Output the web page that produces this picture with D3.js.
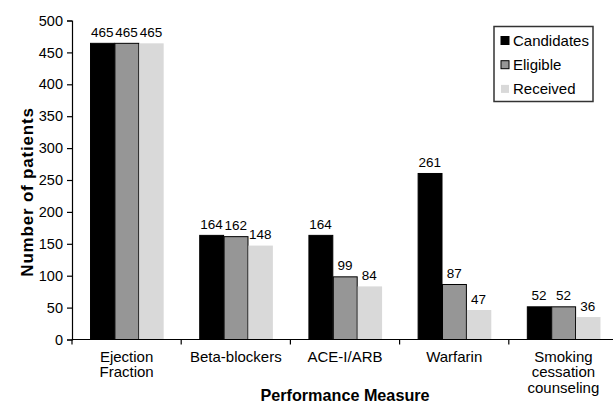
<!DOCTYPE html>
<html><head><meta charset="utf-8">
<script src="https://cdn.jsdelivr.net/npm/d3@7"></script>
<style>body{margin:0;background:#fff}svg{display:block;font-family:"Liberation Sans",Arial,sans-serif}</style>
</head><body>
<script>
const categories = [["Ejection","Fraction"],["Beta-blockers"],["ACE-I/ARB"],["Warfarin"],["Smoking","cessation","counseling"]];
const seriesNames = ["Candidates","Eligible","Received"];
const candidates = [465,164,164,261,52];
const eligible = [465,162,99,87,52];
const received = [465,148,84,47,36];
const yTicks = [0,50,100,150,200,250,300,350,400,450,500];
const colors = ["#000000","#969696","#d9d9d9"];
const strokes = ["#000000","#000000","none"];

(function(){
const W=613,H=404;
const svg=d3.select("body").append("svg").attr("width",W).attr("height",H);
const mL=72,mR=618,mT=20.5,mB=339.5;
const catIdx=categories.map((d,i)=>i);
const x=d3.scaleBand().domain(catIdx).range([mL,mR]).paddingInner(0.33).paddingOuter(0.165);
const xb=d3.scaleBand().domain([0,1,2]).range([0,x.bandwidth()]);
const y=d3.scaleLinear().domain([0,500]).range([mB,mT]);
const xEdge=d3.scaleLinear().domain([0,5]).range([mL,mR]);
const series=[candidates,eligible,received];

series.forEach((vals,s)=>{
  svg.append("g").selectAll("rect").data(vals).join("rect")
    .attr("x",(d,i)=>x(i)+xb(s)+0.5)
    .attr("y",d=>y(d)+0.5)
    .attr("width",xb.bandwidth()-(s==2?0:0.5))
    .attr("height",d=>mB-y(d)-0.5)
    .attr("fill",colors[s])
    .attr("stroke",strokes[s]).attr("stroke-width",1);
  svg.append("g").selectAll("text").data(vals).join("text")
    .attr("x",(d,i)=>x(i)+xb(s)+xb.bandwidth()/2)
    .attr("y",d=>y(d)-6)
    .attr("text-anchor","middle").attr("font-size",13.5).attr("fill","#000")
    .text(d=>d);
});

const ya=svg.append("g").attr("transform",`translate(${mL},0)`)
  .call(d3.axisLeft(y).tickValues(yTicks).tickSize(5).tickPadding(4));
ya.selectAll("text").attr("font-size",14.5).attr("fill","#000").attr("font-family","Liberation Sans, Arial, sans-serif");
ya.selectAll("line,path").attr("stroke","#000").attr("stroke-width",1.2);

const xa=svg.append("g").attr("transform",`translate(0,${mB})`);
xa.append("line").attr("x1",mL).attr("x2",mR).attr("y1",0).attr("y2",0).attr("stroke","#000").attr("stroke-width",1.2);
xa.selectAll("line.t").data(d3.range(6)).join("line").attr("class","t")
  .attr("x1",d=>xEdge(d)).attr("x2",d=>xEdge(d)).attr("y1",0).attr("y2",5).attr("stroke","#000").attr("stroke-width",1.2);
categories.forEach((lines,i)=>{
  const t=svg.append("text").attr("text-anchor","middle").attr("font-size",15).attr("fill","#000");
  lines.forEach((l,k)=>t.append("tspan").attr("x",x(i)+x.bandwidth()/2).attr("y",361.5+k*15.8).text(l));
});

svg.append("text").attr("x",(mL+mR)/2).attr("y",401).attr("text-anchor","middle")
  .attr("font-size",16.2).attr("font-weight","bold").text("Performance Measure");
svg.append("text").attr("transform",`translate(32.5,192) rotate(-90)`).attr("text-anchor","middle")
  .attr("font-size",17).attr("letter-spacing",0.8).attr("font-weight","bold").text("Number of patients");

const lg=svg.append("g");
lg.append("rect").attr("x",494).attr("y",26.5).attr("width",99).attr("height",75).attr("fill","#fff").attr("stroke","#333").attr("stroke-width",1.5);
seriesNames.forEach((n,s)=>{
  const cy=40.5+s*24.2;
  lg.append("rect").attr("x",501).attr("y",cy-4).attr("width",8).attr("height",8)
    .attr("fill",colors[s]).attr("stroke",strokes[s]).attr("stroke-width",1);
  lg.append("text").attr("x",513).attr("y",cy+5.5).attr("font-size",15).attr("fill","#000").text(n);
});
})();
</script>
</body></html>
